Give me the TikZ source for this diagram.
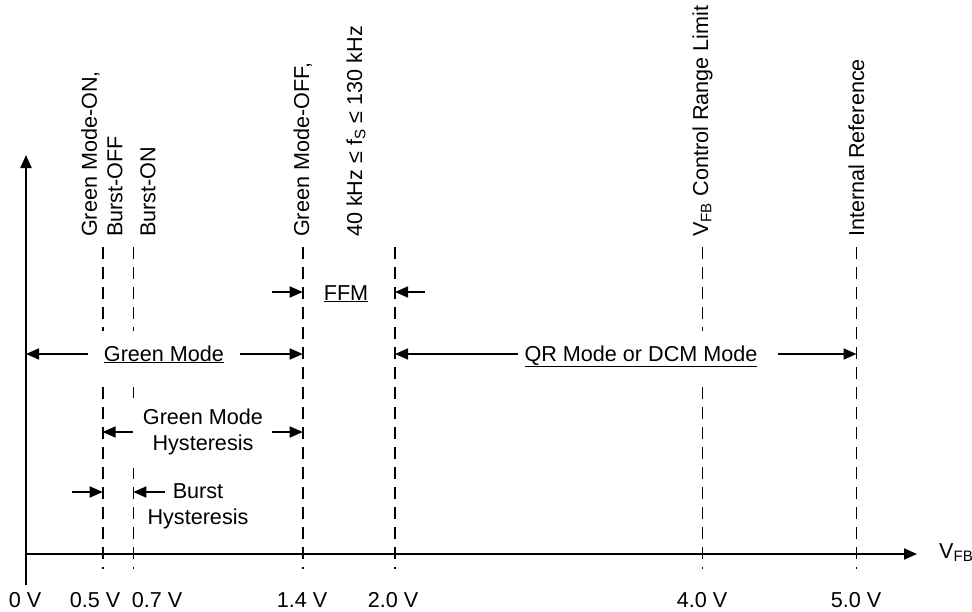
\documentclass[tikz,border=0pt]{standalone}
\usepackage{fontspec}
\setmainfont{Liberation Sans}
\usetikzlibrary{arrows.meta}
\begin{document}
\begin{tikzpicture}[x=1pt,y=-1pt,
  ax/.style={line width=1.9pt, -{Triangle[length=13pt,width=11pt]}},
  arr/.style={line width=1.7pt, -{Triangle[length=13pt,width=11pt]}},
  vline/.style={line width=1.6pt, dash pattern=on 12pt off 8pt},
  lbl/.style={font=\fontsize{21.6}{25.5}\selectfont, inner sep=0pt},
  vlbl/.style={lbl, rotate=90, anchor=west, align=left},
  blbl/.style={lbl, anchor=base}
]
\useasboundingbox (0,0) rectangle (972,611);
% dashed level lines
\foreach \n/\x in {a/102.7, b/133.3, c/302.7, d/395, e/702.5, f/856.5} {
  \coordinate (\n top) at (\x,247);
  \coordinate (\n bot) at (\x,569);
  \draw[vline] (\n top) -- (\n bot);
}
% axes
\coordinate (O) at (26,554);
\coordinate (ytop) at (26,155);
\coordinate (ybot) at (26,585);
\coordinate (xend) at (917,554);
\draw[ax] (ybot) -- (ytop);
\draw[ax] (O) -- (xend);
% masks behind labels
\fill[white] (90,331) rectangle (238,385);
\fill[white] (519,331) rectangle (777,379);
\fill[white] (118,398) rectangle (288,468);
% vertical labels
\node[vlbl] (lab1) at (102,237) {Green Mode-ON,\\Burst-OFF};
\node[vlbl] (lab2) at (148,237) {Burst-ON};
\node[vlbl] (lab3) at (302.7,237) {Green Mode-OFF,};
\node[vlbl] (lab4) at (356,237) {40 kHz ≤ f\textsubscript{S} ≤ 130 kHz};
\node[vlbl] (lab5) at (702.5,237) {V\textsubscript{FB} Control Range Limit};
\node[vlbl] (lab6) at (856.5,237) {Internal Reference};
% FFM row
\node[blbl] (ffm) at (346,300) {\underline{FFM}};
\coordinate (ffmL0) at (272,292); \coordinate (ffmL1) at (302.7,292);
\coordinate (ffmR0) at (425,292); \coordinate (ffmR1) at (395,292);
\draw[arr] (ffmL0) -- (ffmL1);
\draw[arr] (ffmR0) -- (ffmR1);
% Green Mode row
\node[blbl] (gm) at (164,361) {\underline{Green Mode}};
\coordinate (gmL0) at (88,354); \coordinate (gmL1) at (26,354);
\coordinate (gmR0) at (240,354); \coordinate (gmR1) at (302.7,354);
\draw[arr] (gmL0) -- (gmL1);
\draw[arr] (gmR0) -- (gmR1);
% QR row
\node[blbl] (qr) at (641,361) {\underline{QR Mode or DCM Mode}};
\coordinate (qrL0) at (518,354); \coordinate (qrL1) at (395,354);
\coordinate (qrR0) at (778,354); \coordinate (qrR1) at (856.5,354);
\draw[arr] (qrL0) -- (qrL1);
\draw[arr] (qrR0) -- (qrR1);
% Green Mode Hysteresis
\node[lbl, align=center] (gmh) at (203,432) {Green Mode\\Hysteresis};
\coordinate (ghL0) at (133,432); \coordinate (ghL1) at (102.7,432);
\coordinate (ghR0) at (272,432); \coordinate (ghR1) at (302.7,432);
\draw[arr] (ghL0) -- (ghL1);
\draw[arr] (ghR0) -- (ghR1);
% Burst Hysteresis
\node[lbl, align=center] (bh) at (198,506.5) {Burst\\Hysteresis};
\coordinate (bL0) at (72,492); \coordinate (bL1) at (102.7,492);
\coordinate (bR0) at (165,492); \coordinate (bR1) at (133.3,492);
\draw[arr] (bL0) -- (bL1);
\draw[arr] (bR0) -- (bR1);
% axis value labels
\node[blbl] (v0) at (25,607) {0 V};
\node[blbl] (v05) at (95,607) {0.5 V};
\node[blbl] (v07) at (157,607) {0.7 V};
\node[blbl] (v14) at (302,607) {1.4 V};
\node[blbl] (v20) at (393,607) {2.0 V};
\node[blbl] (v40) at (702,607) {4.0 V};
\node[blbl] (v50) at (856,607) {5.0 V};
\node[lbl, anchor=base west] (vfb) at (939,558) {V\textsubscript{FB}};
\end{tikzpicture}
\end{document}
